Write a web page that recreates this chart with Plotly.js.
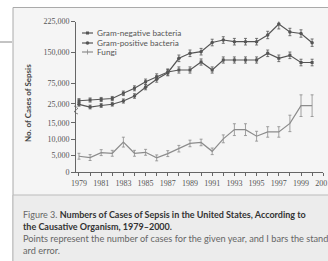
<!DOCTYPE html>
<html><head><meta charset="utf-8">
<script src="https://cdn.plot.ly/plotly-3.0.1.min.js"></script>
<style>html,body{margin:0;padding:0;background:#fff;} #chart{width:328px;height:261px;}</style>
</head><body><div id="chart"></div>
<script>
const years = [1979,1980,1981,1982,1983,1984,1985,1986,1987,1988,1989,1990,1991,1992,1993,1994,1995,1996,1997,1998,1999,2000];
const gramNegative   = [32400,34100,35400,37800,50400,62600,78600,90800,102200,107100,107100,126500,107100,131400,131400,131400,131400,147700,135500,142800,125300,125300];
const gramNegativeSE = [5000,5000,5000,5000,5500,6000,6500,7000,7500,7500,7500,7500,7500,7500,7500,7500,7500,8000,8000,8000,8000,8000];
const gramPositive   = [23700,17100,20800,23900,31700,43900,65000,84500,100500,135500,147700,151600,173900,180000,175900,175900,175900,192200,218900,199500,195800,173500];
const gramPositiveSE = [4500,4500,4500,4500,5000,5500,6000,7000,7500,8000,8000,8000,8000,8000,8000,8000,8000,9000,12000,9000,9000,9000];
const fungi          = [4800,4400,5900,5700,9100,5700,6000,4300,5600,7100,8700,9000,6300,10100,12900,12900,10900,12200,12200,14800,20200,20200];
const fungiSE        = [900,900,900,900,1500,900,900,900,900,1000,1000,1000,1000,1200,1800,1800,1500,1600,1600,2500,3300,3300];
const seriesNames = ['Gram-negative bacteria','Gram-positive bacteria','Fungi'];
const lowerTicks = [0,5000,10000,15000];
const upperTicks = [25000,75000,150000,225000];
const yTitle = 'No. of Cases of Sepsis';
const captionTitle = '<span style="color:#666">Figure 3. </span><b>Numbers of Cases of Sepsis in the United States, According to<br>the Causative Organism, 1979–2000.</b>';
const captionNote = 'Points represent the number of cases for the given year, and I bars the stand-<br>ard error.';

const W = 328, H = 261;
const px = x => x / W;
const py = y => 1 - y / H;

const dark = '#555', light = '#8c8c8c';
function eb(arr, color){ return {type:'data', array:arr, visible:true, color:color, thickness:0.8, width:1.5}; }

const traces = [
  {x:years, y:gramNegative, xaxis:'x', yaxis:'y2', type:'scatter', mode:'lines+markers', name:seriesNames[0],
   line:{color:dark, width:1.2}, marker:{symbol:'square', size:3, color:dark}, error_y:eb(gramNegativeSE, dark)},
  {x:years, y:gramPositive, xaxis:'x', yaxis:'y2', type:'scatter', mode:'lines+markers', name:seriesNames[1],
   line:{color:dark, width:1.2}, marker:{symbol:'circle', size:3.5, color:dark}, error_y:eb(gramPositiveSE, dark)},
  {x:years, y:fungi, xaxis:'x', yaxis:'y', type:'scatter', mode:'lines', name:seriesNames[2],
   line:{color:light, width:1.2}, error_y:eb(fungiSE, light)}
];

const tickFont = {family:'Liberation Serif, serif', size:8, color:'#555'};
const axisCommon = {showline:true, linecolor:'#666', linewidth:1, ticks:'outside', ticklen:3, tickcolor:'#666',
  showgrid:false, zeroline:false, tickfont:tickFont, fixedrange:true};

const shapes = [
  {type:'rect', xref:'paper', yref:'paper', x0:px(13), x1:px(340), y0:py(270), y1:py(7.5), fillcolor:'#f5f5f5', line:{color:'#aaa', width:1}, layer:'below'},
  {type:'rect', xref:'paper', yref:'paper', x0:px(13), x1:px(340), y0:py(270), y1:py(195), fillcolor:'#ececec', line:{color:'#bbb', width:1}, layer:'below'},
  {type:'line', xref:'paper', yref:'paper', x0:px(0), x1:px(12), y0:py(42), y1:py(42), line:{color:'#888', width:1}},
  {type:'path', xref:'paper', yref:'paper',
   path:`M ${px(74)},${py(106)} Q ${px(80)},${py(108)} ${px(76)},${py(110)} Q ${px(72)},${py(112)} ${px(78)},${py(114)}`,
   line:{color:'#666', width:0.8}}
];

// legend (drawn manually for compact symbols)
const legRows = [33, 43, 52];
const legColors = [dark, dark, light];
const annotations = [];
seriesNames.forEach((n,i)=>{
  const yy = legRows[i];
  shapes.push({type:'line', xref:'paper', yref:'paper', x0:px(82), x1:px(93), y0:py(yy), y1:py(yy), line:{color:legColors[i], width:1.2}});
  if (i===0) shapes.push({type:'rect', xref:'paper', yref:'paper', x0:px(86), x1:px(89), y0:py(yy-1.5), y1:py(yy+1.5), fillcolor:dark, line:{width:0}});
  if (i===1) shapes.push({type:'circle', xref:'paper', yref:'paper', x0:px(85.7), x1:px(89.3), y0:py(yy-1.8), y1:py(yy+1.8), fillcolor:dark, line:{width:0}});
  if (i===2) shapes.push({type:'line', xref:'paper', yref:'paper', x0:px(87.5), x1:px(87.5), y0:py(yy-2.5), y1:py(yy+2.5), line:{color:light, width:0.8}});
  annotations.push({xref:'paper', yref:'paper', x:px(95), y:py(yy), xanchor:'left', yanchor:'middle', showarrow:false,
    text:n, font:{family:'Lato, sans-serif', size:8.2, color:'#555'}});
});
annotations.push({xref:'paper', yref:'paper', x:px(28), y:py(103), textangle:-90, showarrow:false, xanchor:'center', yanchor:'middle',
  text:'<b>'+yTitle+'</b>', font:{family:'Lato, sans-serif', size:8, color:'#444'}});
annotations.push({xref:'paper', yref:'paper', x:px(21), y:py(206.5), xanchor:'left', yanchor:'top', align:'left', showarrow:false,
  text:captionTitle, font:{family:'Lato, sans-serif', size:9, color:'#333'}});
annotations.push({xref:'paper', yref:'paper', x:px(21), y:py(230.5), xanchor:'left', yanchor:'top', align:'left', showarrow:false,
  text:captionNote, font:{family:'Lato, sans-serif', size:9.2, color:'#666'}});

const layout = {
  width:W, height:H, margin:{l:0,r:0,t:0,b:0,pad:0},
  paper_bgcolor:'#ffffff', plot_bgcolor:'rgba(0,0,0,0)', showlegend:false,
  xaxis:Object.assign({}, axisCommon, {domain:[px(76.2), px(323.2)], range:[1978.75, 2001], anchor:'y',
    tickmode:'linear', tick0:1979, dtick:2, ticklabeloverflow:'allow',
    minor:{dtick:1, tick0:1979, ticks:'outside', ticklen:3, tickcolor:'#666'}}),
  yaxis:Object.assign({}, axisCommon, {domain:[py(172), py(93.2)], range:[0, 24000], anchor:'x',
    tickmode:'array', tickvals:lowerTicks, tickformat:',', ticklen:4}),
  yaxis2:Object.assign({}, axisCommon, {domain:[py(112), py(21.5)], range:[5000, 225000], anchor:'x',
    tickmode:'array', tickvals:upperTicks, tickformat:',', ticklen:4}),
  shapes:shapes, annotations:annotations
};

Plotly.newPlot('chart', traces, layout, {displayModeBar:false, staticPlot:true});
</script></body></html>
